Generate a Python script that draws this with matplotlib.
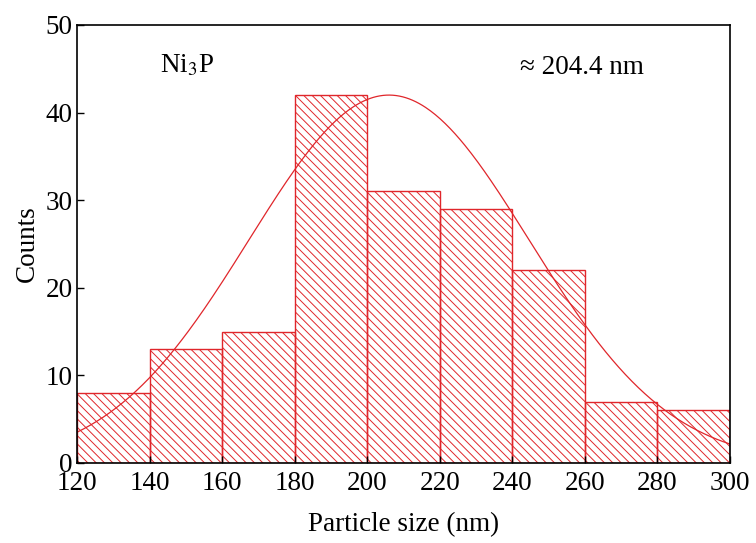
import numpy as np
import matplotlib
matplotlib.use("Agg")
import matplotlib.pyplot as plt

plt.rcParams["font.family"] = "Liberation Serif"
plt.rcParams["mathtext.fontset"] = "stix"
plt.rcParams["hatch.linewidth"] = 0.7

RED = "#e0262b"
FS = 19.5

bin_edges = [120, 140, 160, 180, 200, 220, 240, 260, 280, 300]
counts = [8, 13, 15, 42, 31, 29, 22, 7, 6]

# gaussian fit
fit_peak = 42
fit_mean = 206
fit_sigma = 38.6

fig = plt.figure(figsize=(7.56, 5.43), dpi=100)
ax = fig.add_axes([77 / 756, 80 / 543, 653 / 756, 438 / 543])

lefts = bin_edges[:-1]
widths = np.diff(bin_edges)
ax.bar(lefts, counts, width=widths, align="edge", facecolor="none",
       edgecolor=RED, linewidth=1.0, hatch="\\\\\\\\")

xs = np.linspace(120, 300, 400)
ax.plot(xs, fit_peak * np.exp(-(xs - fit_mean) ** 2 / (2 * fit_sigma ** 2)),
        color=RED, linewidth=0.9)

ax.set_xlim(120, 300)
ax.set_ylim(0, 50)
ax.set_xticks(range(120, 301, 20))
ax.set_yticks(range(0, 51, 10))
ax.tick_params(direction="in", labelsize=FS, length=5, width=1)
ax.tick_params(axis="x", pad=6)
ax.tick_params(axis="y", pad=3)
for s in ax.spines.values():
    s.set_linewidth(1.2)

ax.set_xlabel("Particle size (nm)", fontsize=FS, labelpad=11)
ax.set_ylabel("Counts", fontsize=FS, labelpad=4)

ax.text(143, 45.4, "Ni$_3$P", fontsize=FS, va="center")
ax.text(242, 45.1, "≈ 204.4 nm", fontsize=FS, va="center")

fig.savefig("out.png", dpi=100)
